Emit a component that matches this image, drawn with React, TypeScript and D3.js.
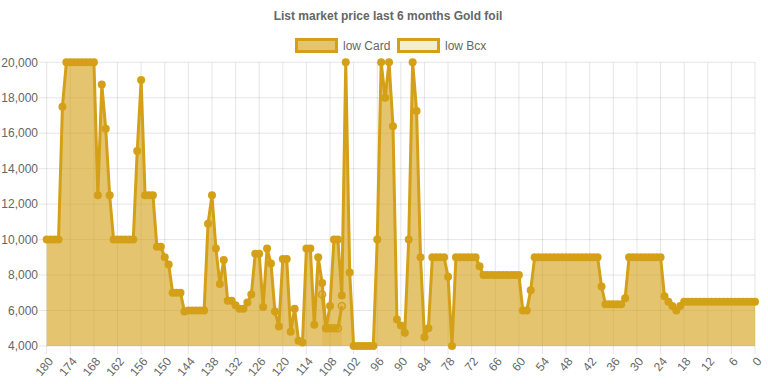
import React from "react";
import * as d3 from "d3";

const TITLE = "List market price last 6 months Gold foil";
const SERIES_NAMES = ["low Card", "low Bcx"];

// days ago: 180 ... 0
const days: number[] = d3.range(180, -1, -1);

const lowCard: number[] = [
  10000, 10000, 10000, 10000, 17500, // 180-176
  20000, 20000, 20000, 20000, 20000, 20000, 20000, 20000, // 175-168
  12500, 18750, 16250, 12500, // 167-164
  10000, 10000, 10000, 10000, 10000, 10000, // 163-158
  15000, 19000, 12500, 12500, 12500, // 157-153
  9600, 9600, 9000, 8600, // 152-149
  7000, 7000, 7000, 5950, // 148-145
  6000, 6000, 6000, 6000, 6000, // 144-140
  10900, 12500, 9500, 7500, 8850, // 139-135
  6550, 6550, 6300, 6100, 6100, 6450, 6900, // 134-128
  9200, 9200, 6200, 9500, 8650, 5950, 5100, // 127-121
  8900, 8900, 4800, 6100, 4300, 4200, // 120-115
  9500, 9500, 5200, 9000, 7550, 5000, 6250, // 114-108
  10000, 10000, 6850, 20000, 8150, // 107-103
  4000, 4000, 4000, 4000, 4000, 4000, // 102-97
  10000, 20000, 18000, 20000, 16400, // 96-92
  5500, 5150, 4750, 10000, 20000, 17250, // 91-86
  9000, 4500, 5000, // 85-83
  9000, 9000, 9000, 9000, 7900, 4000, // 82-77
  9000, 9000, 9000, 9000, 9000, 9000, 8500, // 76-70
  8000, 8000, 8000, 8000, 8000, 8000, 8000, 8000, 8000, 8000, // 69-60
  6000, 6000, 7150, // 59-57
  9000, 9000, 9000, 9000, 9000, 9000, 9000, 9000, 9000, // 56-48
  9000, 9000, 9000, 9000, 9000, 9000, 9000, 9000, // 47-40
  7350, 6350, 6350, 6350, 6350, 6350, 6700, // 39-33
  9000, 9000, 9000, 9000, 9000, 9000, 9000, 9000, 9000, // 32-24
  6800, 6500, 6250, 6000, 6250, // 23-19
  6500, 6500, 6500, 6500, 6500, 6500, 6500, 6500, 6500, 6500, // 18-9
  6500, 6500, 6500, 6500, 6500, 6500, 6500, 6500, 6500, // 8-0
];

// low Bcx: only a few days have values
const bcxDays: number[] = [110, 109, 108, 107, 106, 105];
const bcxValues: number[] = [6900, 5000, 5000, 5000, 5000, 6250];

const yTicks: number[] = [4000, 6000, 8000, 10000, 12000, 14000, 16000, 18000, 20000];
const xTicks: number[] = d3.range(180, -1, -6);

const W = 768;
const H = 384;
const LEFT = 46.7;
const RIGHT = 755;
const TOP = 62.3;
const BOTTOM = 346;

const LINE = "rgb(212,160,23)";
const FILL = "rgba(212,160,23,0.62)";
const BCX_FILL = "rgba(212,160,23,0.2)";
const TEXT = "#666";
const FONT = "'Helvetica Neue', Helvetica, Arial, 'Liberation Sans', sans-serif";

export default function App() {
  const x = d3.scaleLinear().domain([180, 0]).range([LEFT, RIGHT]);
  const y = d3.scaleLinear().domain([4000, 20000]).range([BOTTOM, TOP]);

  const cardData = days.map((d, i) => ({ d, v: lowCard[i] }));
  const bcxData = bcxDays.map((d, i) => ({ d, v: bcxValues[i] }));

  const line = d3
    .line<{ d: number; v: number }>()
    .x((p) => x(p.d))
    .y((p) => y(p.v));
  const area = d3
    .area<{ d: number; v: number }>()
    .x((p) => x(p.d))
    .y0(BOTTOM)
    .y1((p) => y(p.v));

  const fmt = d3.format(",");

  return (
    <svg
      width={W}
      height={H}
      style={{ position: "absolute", left: 0, top: 0, background: "#fff" }}
      fontFamily={FONT}
    >
      <text x={388} y={20} textAnchor="middle" fontSize={12} fontWeight="bold" fill={TEXT}>
        {TITLE}
      </text>

      {/* legend */}
      <g>
        <rect x={296.5} y={39.5} width={40} height={12} fill={FILL} stroke={LINE} strokeWidth={3} />
        <text x={343} y={50} fontSize={12} fill={TEXT}>
          {SERIES_NAMES[0]}
        </text>
        <rect x={398.5} y={39.5} width={40} height={12} fill={BCX_FILL} stroke={LINE} strokeWidth={3} />
        <text x={445} y={50} fontSize={12} fill={TEXT}>
          {SERIES_NAMES[1]}
        </text>
      </g>

      {/* grid */}
      <g stroke="rgba(0,0,0,0.1)" strokeWidth={1}>
        {yTicks.map((t) => (
          <line key={"gy" + t} x1={LEFT - 8} x2={RIGHT} y1={y(t)} y2={y(t)} />
        ))}
        {xTicks.map((t) => (
          <line key={"gx" + t} x1={x(t)} x2={x(t)} y1={TOP} y2={BOTTOM + 8} />
        ))}
      </g>

      {/* y labels */}
      {yTicks.map((t) => (
        <text key={"yl" + t} x={38} y={y(t)} dy="0.35em" textAnchor="end" fontSize={12} fill={TEXT}>
          {fmt(t)}
        </text>
      ))}

      {/* x labels */}
      {xTicks.map((t) => (
        <text
          key={"xl" + t}
          transform={`translate(${x(t) + 4},${BOTTOM + 13}) rotate(-50)`}
          textAnchor="end"
          dy="0.35em"
          fontSize={12}
          fill={TEXT}
        >
          {t}
        </text>
      ))}

      {/* low Bcx (drawn beneath) */}
      <path d={area(bcxData) || ""} fill={BCX_FILL} />
      <path d={line(bcxData) || ""} fill="none" stroke={LINE} strokeWidth={3} />
      {bcxData.map((p, i) => (
        <circle key={"b" + i} cx={x(p.d)} cy={y(p.v)} r={3.5} fill={BCX_FILL} stroke={LINE} strokeWidth={1.5} />
      ))}

      {/* low Card */}
      <path d={area(cardData) || ""} fill={FILL} />
      <path d={line(cardData) || ""} fill="none" stroke={LINE} strokeWidth={3} strokeLinejoin="miter" />
      {cardData.map((p, i) => (
        <circle key={"c" + i} cx={x(p.d)} cy={y(p.v)} r={4} fill={LINE} />
      ))}
    </svg>
  );
}
